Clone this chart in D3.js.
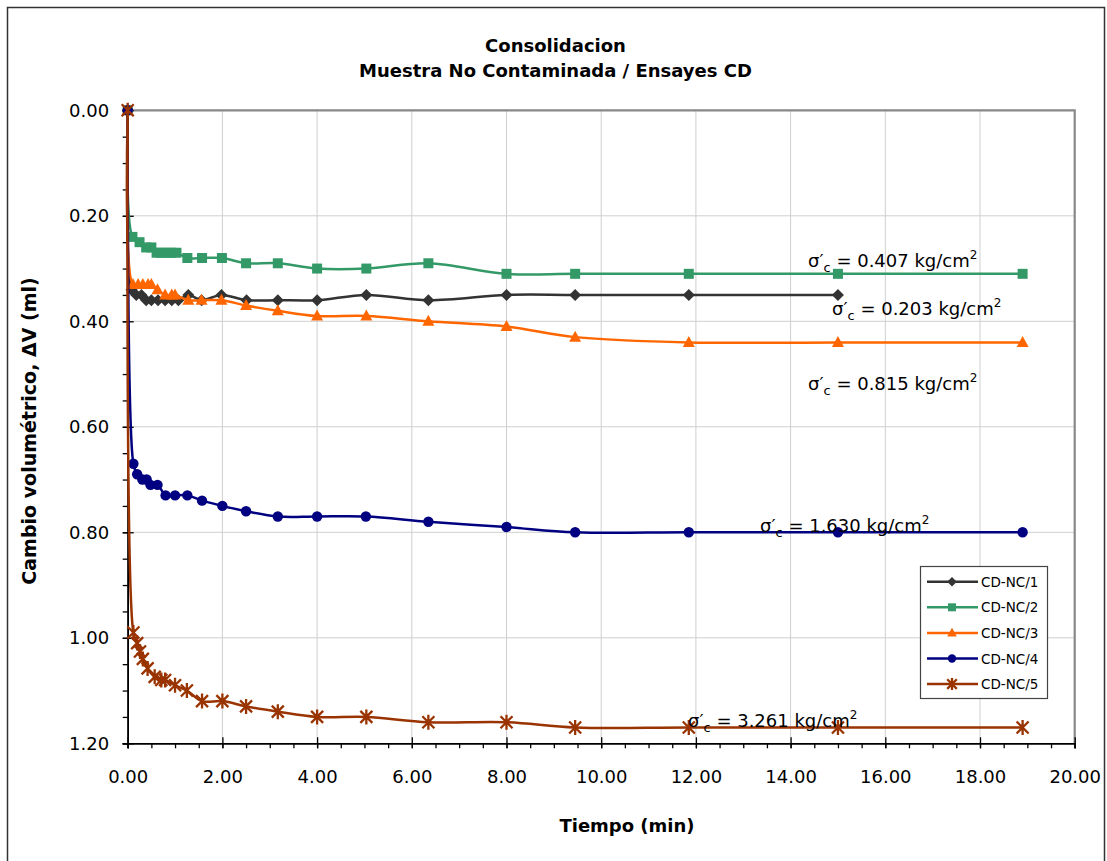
<!DOCTYPE html>
<html><head><meta charset="utf-8">
<script src="https://cdn.jsdelivr.net/npm/d3@7"></script>
<style>body{margin:0;background:#fff}text{font-family:"DejaVu Sans",sans-serif}</style>
</head><body><svg id="c" width="1107" height="861"></svg>
<script>
// ---- data ----
const seriesNames = ["CD-NC/1","CD-NC/2","CD-NC/3","CD-NC/4","CD-NC/5"];
const seriesColors = ["#333333","#339966","#ff6600","#000080","#993300"];
const seriesMarkers = ["diamond","square","triangle","circle","star"];

const t1 = [0,0.08,0.18,0.29,0.39,0.5,0.64,0.79,0.93,1.07,1.28,1.56,1.98,2.51,3.17,4.0,5.04,6.35,8.0,9.45,11.85,15.0];
const v1 = [0,0.34,0.35,0.35,0.36,0.36,0.36,0.36,0.36,0.36,0.35,0.36,0.35,0.36,0.36,0.36,0.35,0.36,0.35,0.35,0.35,0.35];

const t2 = [0,0.1,0.25,0.39,0.5,0.61,0.71,0.82,0.92,1.03,1.26,1.57,1.99,2.5,3.17,4.0,5.04,6.35,8.0,9.45,11.85,15.0,18.9];
const v2 = [0,0.24,0.25,0.26,0.26,0.27,0.27,0.27,0.27,0.27,0.28,0.28,0.28,0.29,0.29,0.30,0.30,0.29,0.31,0.31,0.31,0.31,0.31];

const t3 = [0,0.11,0.22,0.32,0.43,0.5,0.63,0.79,0.93,1.0,1.28,1.56,1.98,2.5,3.17,4.0,5.04,6.35,8.0,9.45,11.85,15.0,18.9];
const v3 = [0,0.33,0.33,0.33,0.33,0.33,0.34,0.35,0.35,0.35,0.36,0.36,0.36,0.37,0.38,0.39,0.39,0.40,0.41,0.43,0.44,0.44,0.44];

const t4 = [0,0.12,0.2,0.31,0.4,0.48,0.63,0.8,1.0,1.26,1.57,2.0,2.5,3.17,4.0,5.03,6.35,8.0,9.45,11.85,15.0,18.9];
const v4 = [0,0.67,0.69,0.70,0.70,0.71,0.71,0.73,0.73,0.73,0.74,0.75,0.76,0.77,0.77,0.77,0.78,0.79,0.80,0.80,0.80,0.80];

const t5 = [0,0.12,0.2,0.26,0.32,0.42,0.57,0.71,0.79,1.0,1.25,1.57,2.0,2.5,3.17,4.0,5.04,6.35,8.0,9.45,11.85,15.0,18.9];
const v5 = [0,0.99,1.01,1.026,1.04,1.058,1.074,1.08,1.08,1.09,1.10,1.12,1.12,1.13,1.14,1.15,1.15,1.16,1.16,1.17,1.17,1.17,1.17];

const xTicks = [0,2,4,6,8,10,12,14,16,18,20];
const yTicks = [0,0.2,0.4,0.6,0.8,1.0,1.2];

const annotations = [
  {value:"0.407", x:808, y:267},
  {value:"0.203", x:832, y:315},
  {value:"0.815", x:808, y:390},
  {value:"1.630", x:760, y:532},
  {value:"3.261", x:688, y:727}
];

const titleLines = ["Consolidacion","Muestra No Contaminada / Ensayes CD"];
const xTitle = "Tiempo (min)";
const yTitle = "Cambio volumétrico, ΔV (ml)";

// ---- drawing ----
const svg = d3.select("#c");
const W = 1107, H = 861;
const x = d3.scaleLinear().domain([0,20]).range([127.7,1074.7]);
const y = d3.scaleLinear().domain([0,1.2]).range([110.3,743.3]);

svg.append("rect").attr("x",0).attr("y",0).attr("width",W).attr("height",H).attr("fill","#fff");
svg.append("rect").attr("x",7.5).attr("y",7.5).attr("width",1097).attr("height",870)
  .attr("fill","none").attr("stroke","#333").attr("stroke-width",1.5);

// grid
const grid = svg.append("g").attr("stroke","#cfcfcf").attr("stroke-width",1);
xTicks.filter(d=>d>0 && d<20).forEach(d=>{
  grid.append("line").attr("x1",x(d)).attr("x2",x(d)).attr("y1",y(0)).attr("y2",y(1.2));
});
yTicks.filter(d=>d>0 && d<1.2).forEach(d=>{
  grid.append("line").attr("x1",x(0)).attr("x2",x(20)).attr("y1",y(d)).attr("y2",y(d));
});
svg.append("path").attr("d",`M${x(0)},${y(0)}H${x(20)}V${y(1.2)}`)
  .attr("fill","none").attr("stroke","#888").attr("stroke-width",2.2);

// axes
const minorX = d3.range(0,20.001,0.5);
const minorY = d3.range(0,1.2001,0.05);
const gxm = svg.append("g").attr("transform",`translate(0,${y(1.2)})`)
  .call(d3.axisBottom(x).tickValues(minorX).tickSize(5).tickFormat(""));
const gx = svg.append("g").attr("transform",`translate(0,${y(1.2)})`)
  .call(d3.axisBottom(x).tickValues(xTicks).tickSize(5).tickPadding(22).tickFormat(d3.format(".2f")));
gx.selectAll(".tick line").attr("y1",-6);
const gym = svg.append("g").attr("transform",`translate(${x(0)},0)`)
  .call(d3.axisLeft(y).tickValues(minorY).tickSize(5).tickFormat(""));
const gy = svg.append("g").attr("transform",`translate(${x(0)},0)`)
  .call(d3.axisLeft(y).tickValues(yTicks).tickSize(5).tickPadding(13.5).tickFormat(d3.format(".2f")));
gy.selectAll(".tick line").attr("x1",6);
[gxm,gx,gym,gy].forEach(g=>{
  g.selectAll(".domain").attr("stroke","#000").attr("stroke-width",1.6);
  g.selectAll(".tick line").attr("stroke","#000").attr("stroke-width",1.3);
  g.selectAll("text").attr("font-size",18).attr("fill","#000").attr("font-family","DejaVu Sans");
});

// series
const data = [[t1,v1],[t2,v2],[t3,v3],[t4,v4],[t5,v5]].map(([t,v])=>t.map((d,i)=>({t:d,v:v[i]})));
const line = d3.line().x(d=>x(d.t)).y(d=>y(d.v)).curve(d3.curveCatmullRom.alpha(0.5));

function marker(g, type, color, k){
  const s = k || 1;
  if(type==="diamond") g.append("path").attr("d",`M0,${-6*s}L${6*s},0L0,${6*s}L${-6*s},0Z`).attr("fill",color);
  else if(type==="square") g.append("rect").attr("x",-5*s).attr("y",-5*s).attr("width",10*s).attr("height",10*s).attr("fill",color);
  else if(type==="triangle") g.append("path").attr("d",`M0,${-6.5*s}L${6*s},${4.5*s}L${-6*s},${4.5*s}Z`).attr("fill",color);
  else if(type==="circle") g.append("circle").attr("r",5.2*s).attr("fill",color);
  else if(type==="star") g.append("path").attr("d",`M${-6*s},${-6*s}L${6*s},${6*s}M${-6*s},${6*s}L${6*s},${-6*s}M0,${-7.5*s}L0,${7.5*s}`)
      .attr("stroke",color).attr("stroke-width",2.3).attr("fill","none");
}

data.forEach((pts,i)=>{
  const g = svg.append("g");
  g.append("path").datum(pts).attr("d",line).attr("fill","none")
    .attr("stroke",seriesColors[i]).attr("stroke-width",2.5);
  pts.forEach(p=>{
    const m = g.append("g").attr("transform",`translate(${x(p.t)},${y(p.v)})`);
    marker(m, seriesMarkers[i], seriesColors[i], 1);
  });
});

// annotations
annotations.forEach(a=>{
  const tx = svg.append("text").attr("x",a.x).attr("y",a.y).attr("font-size",18).attr("fill","#000");
  tx.append("tspan").text("σ′");
  tx.append("tspan").attr("dy",5).attr("font-size",13).text("c");
  tx.append("tspan").attr("dy",-5).text(` = ${a.value} kg/cm`);
  tx.append("tspan").attr("dy",-8).attr("font-size",12).text("2");
});

// titles
titleLines.forEach((s,i)=>{
  svg.append("text").attr("x",555.5).attr("y",51.5+i*25.5).attr("text-anchor","middle")
    .attr("font-size",18).attr("font-weight","bold").attr("fill","#000").text(s);
});
svg.append("text").attr("x",627).attr("y",832).attr("text-anchor","middle")
  .attr("font-size",18).attr("font-weight","bold").text(xTitle);
svg.append("text").attr("transform","translate(35.5,431) rotate(-90)").attr("text-anchor","middle")
  .attr("font-size",19).attr("font-weight","bold").text(yTitle);

// legend
const lg = svg.append("g");
lg.append("rect").attr("x",920.5).attr("y",566.5).attr("width",127).attr("height",132)
  .attr("fill","#fff").attr("stroke","#444").attr("stroke-width",1.2);
seriesNames.forEach((n,i)=>{
  const yy = 581.7 + i*25.6;
  lg.append("line").attr("x1",927).attr("x2",978).attr("y1",yy).attr("y2",yy)
    .attr("stroke",seriesColors[i]).attr("stroke-width",2.5);
  const m = lg.append("g").attr("transform",`translate(952,${yy})`);
  marker(m, seriesMarkers[i], seriesColors[i], 0.8);
  lg.append("text").attr("x",981).attr("y",yy+5).attr("font-size",13.5).attr("fill","#000").text(n);
});
</script></body></html>
